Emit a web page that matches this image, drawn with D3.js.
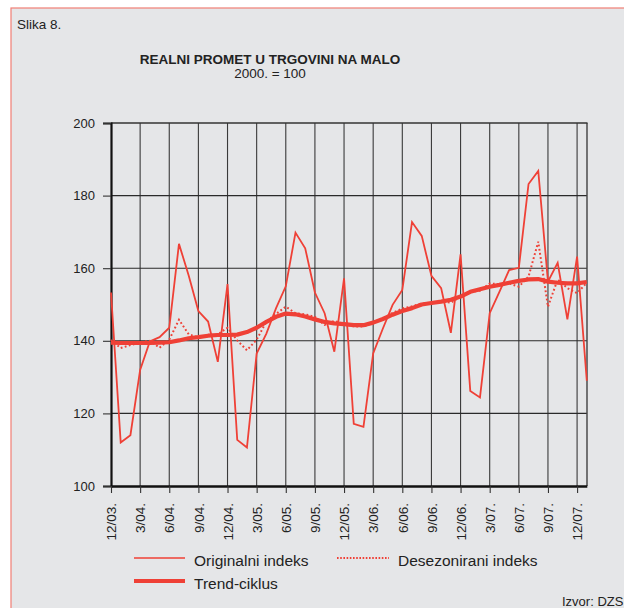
<!DOCTYPE html>
<html>
<head>
<meta charset="utf-8">
<script src="https://cdn.jsdelivr.net/npm/d3@7"></script>
<style>
  body { margin: 0; background: #fff; }
  svg { display: block; font-family: "Liberation Sans", Arial, sans-serif; }
</style>
</head>
<body>
<svg id="chart"></svg>
<script>
// months 12/03. .. 1/08.
const months = [
  "12/03.", "1/04.", "2/04.", "3/04.", "4/04.", "5/04.", "6/04.", "7/04.", "8/04.", "9/04.", "10/04.", "11/04.",
  "12/04.", "1/05.", "2/05.", "3/05.", "4/05.", "5/05.", "6/05.", "7/05.", "8/05.", "9/05.", "10/05.", "11/05.",
  "12/05.", "1/06.", "2/06.", "3/06.", "4/06.", "5/06.", "6/06.", "7/06.", "8/06.", "9/06.", "10/06.", "11/06.",
  "12/06.", "1/07.", "2/07.", "3/07.", "4/07.", "5/07.", "6/07.", "7/07.", "8/07.", "9/07.", "10/07.", "11/07.",
  "12/07.", "1/08."
];

const tickMonths = ["12/03.", "3/04.", "6/04.", "9/04.", "12/04.", "3/05.", "6/05.", "9/05.", "12/05.",
  "3/06.", "6/06.", "9/06.", "12/06.", "3/07.", "6/07.", "9/07.", "12/07."];

const yTicks = [100, 120, 140, 160, 180, 200];

// Originalni indeks
const original = [
  153.3, 112.0, 114.0, 132.0, 139.8, 141.0, 143.6, 166.7, 158.0, 148.2, 145.3, 134.2,
  155.6, 112.7, 110.6, 136.5, 142.0, 149.0, 155.0, 169.8, 165.5, 153.3, 147.6, 137.0,
  157.2, 117.1, 116.3, 136.5, 143.4, 149.9, 154.0, 172.7, 168.9, 157.9, 154.5, 142.2,
  163.8, 126.2, 124.4, 147.6, 153.5, 159.5, 160.1, 183.2, 186.8, 156.3, 161.5, 145.9,
  163.2, 129.0
];

// Desezonirani indeks
const deseason = [
  140.2, 138.0, 138.8, 139.6, 140.0, 138.1, 140.3, 145.8, 141.8, 140.9, 141.3, 141.8,
  143.6, 140.1, 137.4, 140.3, 145.3, 147.4, 149.4, 147.6, 147.3, 146.6, 144.4, 145.5,
  144.6, 144.0, 143.9, 145.0, 145.9, 147.7, 148.9, 149.5, 150.3, 150.3, 150.8, 150.5,
  152.2, 153.5, 153.8, 155.8, 155.6, 155.8, 154.9, 157.7, 167.3, 149.4, 156.9, 154.5,
  153.1, 156.0
];

// Trend-ciklus
const trend = [
  139.5, 139.4, 139.4, 139.4, 139.4, 139.5, 139.6, 140.1, 140.7, 141.0, 141.4, 141.6,
  141.6, 141.7, 142.4, 143.6, 145.2, 146.6, 147.5, 147.3, 146.7, 145.9, 145.2, 144.8,
  144.6, 144.3, 144.3, 145.0, 146.0, 147.2, 148.2, 149.0, 150.0, 150.4, 150.8, 151.3,
  152.2, 153.5, 154.2, 154.9, 155.4, 156.0, 156.5, 156.9, 157.0, 156.3, 156.0, 155.8,
  155.8, 156.2
];

const seriesNames = ["Originalni indeks", "Desezonirani indeks", "Trend-ciklus"];

let width = 624;
let height = 608;
let red = "#ef4036";

let svg = d3.select("#chart").attr("width", width).attr("height", height);

// panel
svg.append("rect")
  .attr("x", 11).attr("y", 8)
  .attr("width", width + 20).attr("height", height + 20)
  .attr("fill", "#e5e6e8")
  .attr("stroke", "#f17f75")
  .attr("stroke-width", 1.2);

svg.append("text")
  .attr("x", 17).attr("y", 29)
  .attr("font-size", 13.5).attr("fill", "#222")
  .text("Slika 8.");

svg.append("text")
  .attr("x", 270).attr("y", 63.5)
  .attr("text-anchor", "middle")
  .attr("font-size", 13.5).attr("font-weight", "bold").attr("fill", "#222")
  .text("REALNI PROMET U TRGOVINI NA MALO");

svg.append("text")
  .attr("x", 270).attr("y", 77.5)
  .attr("text-anchor", "middle")
  .attr("font-size", 13.5).attr("fill", "#222")
  .text("2000. = 100");

// scales
let xScale = d3.scalePoint().domain(months).range([111, 586.8]);
let yScale = d3.scaleLinear().domain([100, 200]).range([486, 123]);

// grid
let grid = svg.append("g");
grid.selectAll(".vg")
  .data(tickMonths.slice(1))
  .enter()
  .append("line")
  .attr("x1", (d) => xScale(d)).attr("x2", (d) => xScale(d))
  .attr("y1", yScale(200)).attr("y2", yScale(100))
  .attr("stroke", "#3a3a3a").attr("stroke-width", 1.1);

grid.selectAll(".hg")
  .data(yTicks.slice(1, -1))
  .enter()
  .append("line")
  .attr("x1", 111).attr("x2", 586.8)
  .attr("y1", (d) => yScale(d)).attr("y2", (d) => yScale(d))
  .attr("stroke", "#2a2a2a").attr("stroke-width", 1.1);

// frame top + right
svg.append("line")
  .attr("x1", 111).attr("x2", 587.5)
  .attr("y1", yScale(200)).attr("y2", yScale(200))
  .attr("stroke", "#333").attr("stroke-width", 1.5);
svg.append("line")
  .attr("x1", 587).attr("x2", 587)
  .attr("y1", yScale(200)).attr("y2", yScale(100))
  .attr("stroke", "#333").attr("stroke-width", 1.3);

// axes
let yAxis = d3.axisLeft(yScale).tickValues(yTicks).tickSize(8).tickPadding(8);
let gy = svg.append("g")
  .attr("transform", "translate(111,0)")
  .call(yAxis);
gy.select(".domain").attr("stroke", "#111").attr("stroke-width", 2.2);
gy.selectAll(".tick line").attr("stroke", "#333").attr("stroke-width", 1.1);
gy.selectAll("text")
  .attr("font-size", 13).attr("fill", "#222")
  .attr("font-family", "Liberation Sans, Arial, sans-serif");

let xAxis = d3.axisBottom(xScale).tickValues(tickMonths).tickSize(7).tickSizeOuter(0);
let gx = svg.append("g")
  .attr("transform", "translate(0," + yScale(100) + ")")
  .call(xAxis);
gx.select(".domain").attr("stroke", "#111").attr("stroke-width", 2.4);
gx.selectAll(".tick line").attr("stroke", "#333").attr("stroke-width", 1.1);
gx.selectAll("text")
  .attr("font-size", 13.5).attr("fill", "#222")
  .attr("font-family", "Liberation Sans, Arial, sans-serif")
  .style("text-anchor", "end")
  .attr("dx", "-17px")
  .attr("dy", "0.35em")
  .attr("y", 0)
  .attr("transform", "rotate(-90)");

// lines
let lineGen = (values) => d3.line()
  .x((d, i) => xScale(months[i]))
  .y((d) => yScale(d))(values);

let plot = svg.append("g");

plot.append("path")
  .attr("d", lineGen(original))
  .attr("fill", "none")
  .attr("stroke", red)
  .attr("stroke-width", 1.8)
  .attr("stroke-linejoin", "miter");

plot.append("path")
  .attr("d", lineGen(trend))
  .attr("fill", "none")
  .attr("stroke", red)
  .attr("stroke-width", 4.2)
  .attr("stroke-linejoin", "round");

plot.append("path")
  .attr("d", lineGen(deseason))
  .attr("fill", "none")
  .attr("stroke", red)
  .attr("stroke-width", 2)
  .attr("stroke-dasharray", "1.8,2.4");

// legend
let legend = svg.append("g").attr("font-size", 15.5).attr("fill", "#222");

legend.append("line")
  .attr("x1", 134).attr("x2", 185).attr("y1", 558).attr("y2", 558)
  .attr("stroke", red).attr("stroke-width", 1.5);
legend.append("text").attr("x", 194).attr("y", 565.5).text(seriesNames[0]);

legend.append("line")
  .attr("x1", 337).attr("x2", 389).attr("y1", 558).attr("y2", 558)
  .attr("stroke", red).attr("stroke-width", 1.8)
  .attr("stroke-dasharray", "1.6,1.6");
legend.append("text").attr("x", 398).attr("y", 565.5).text(seriesNames[1]);

legend.append("line")
  .attr("x1", 134).attr("x2", 185).attr("y1", 581).attr("y2", 581)
  .attr("stroke", red).attr("stroke-width", 4.2);
legend.append("text").attr("x", 194).attr("y", 589).text(seriesNames[2]);

svg.append("text")
  .attr("x", 562).attr("y", 606)
  .attr("font-size", 13).attr("fill", "#222")
  .text("Izvor: DZS");
</script>
</body>
</html>
